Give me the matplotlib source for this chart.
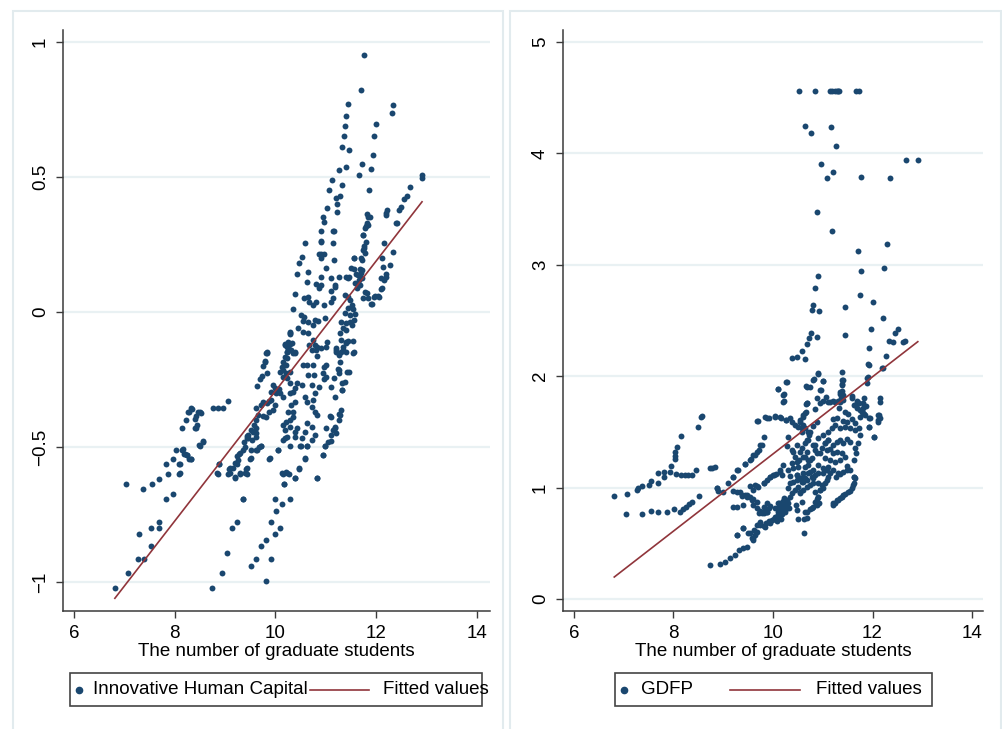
import numpy as np
import matplotlib
matplotlib.use("Agg")
import matplotlib.pyplot as plt
from matplotlib.patches import Rectangle
from matplotlib.lines import Line2D

plt.rcParams['font.family'] = ['Liberation Sans', 'DejaVu Sans']
plt.rcParams['font.size'] = 13.5

# ---- data ----
# left panel: log graduate students vs innovative human capital
hc_pts = np.array([
    (11.76, 0.952), (11.69, 0.823), (11.44, 0.770), (11.41, 0.727), (11.38, 0.688), (11.36, 0.652),
    (11.32, 0.611), (11.46, 0.599), (11.40, 0.537), (11.27, 0.525), (11.13, 0.489), (11.32, 0.470),
    (11.07, 0.451), (11.28, 0.430), (11.21, 0.423), (11.22, 0.399), (11.02, 0.384), (11.22, 0.372),
    (10.95, 0.351), (10.97, 0.332), (10.91, 0.300), (11.14, 0.300), (11.17, 0.300), (10.90, 0.260),
    (11.15, 0.254), (10.58, 0.254), (10.53, 0.205), (10.47, 0.181), (10.90, 0.215),
    (12.34, 0.765), (12.31, 0.736), (12.00, 0.697), (11.96, 0.652), (11.93, 0.581), (11.71, 0.548),
    (11.66, 0.507), (11.89, 0.531), (11.85, 0.451), (11.82, 0.364), (11.88, 0.351), (11.82, 0.330),
    (11.80, 0.320), (11.73, 0.284), (11.80, 0.260), (11.75, 0.236), (11.77, 0.220), (11.71, 0.193),
    (11.56, 0.199), (11.68, 0.160), (11.55, 0.160), (11.60, 0.140),
    (12.91, 0.507), (12.91, 0.495), (12.68, 0.462), (12.62, 0.430), (12.56, 0.420), (12.49, 0.390),
    (12.45, 0.378), (12.22, 0.378), (12.19, 0.365), (12.40, 0.331), (12.16, 0.254), (12.34, 0.223),
    (12.12, 0.200), (12.27, 0.174), (12.20, 0.140), (12.16, 0.120), (12.11, 0.090), (12.03, 0.060),
    (11.97, 0.060), (11.89, 0.030),
    (10.91, 0.263), (10.86, 0.214), (10.96, 0.214), (10.91, 0.201), (11.16, 0.193), (10.64, 0.147),
    (10.42, 0.140), (11.00, 0.162), (10.91, 0.131), (11.10, 0.125), (11.26, 0.131), (10.81, 0.103),
    (10.91, 0.100), (10.86, 0.090), (10.62, 0.112), (11.18, 0.100), (11.18, 0.094), (11.44, 0.127),
    (10.38, 0.067), (10.57, 0.051), (10.65, 0.057), (10.67, 0.036), (10.75, 0.026), (10.81, 0.036),
    (10.97, 0.026), (11.11, 0.038), (11.14, 0.051), (11.10, 0.078), (10.34, 0.011), (10.50, -0.011),
    (10.57, -0.017), (10.55, -0.033), (10.65, -0.036), (10.75, -0.048), (10.78, -0.030), (10.85, -0.033),
    (10.99, -0.021), (10.45, -0.060), (10.55, -0.073), (10.65, -0.079), (10.29, -0.073), (10.29, -0.080),
    (10.24, -0.110), (10.32, -0.116), (10.24, -0.128), (10.30, -0.141), (10.22, -0.147), (10.38, -0.147),
    (10.75, -0.104), (10.78, -0.122), (10.72, -0.141), (10.81, -0.141), (9.84, -0.149), (11.03, -0.110),
    (11.01, -0.128), (10.91, -0.135),
    (11.50, 0.162), (11.41, 0.131), (11.46, 0.131), (11.55, 0.199), (11.69, 0.199), (11.74, 0.230),
    (11.76, 0.246), (11.74, 0.285), (11.77, 0.310), (11.84, 0.322), (11.84, 0.353), (11.72, 0.155),
    (11.70, 0.143), (11.63, 0.137), (11.71, 0.125), (11.65, 0.118), (11.58, 0.106), (11.67, 0.100),
    (11.61, 0.088), (11.38, 0.063), (11.44, 0.057), (11.48, 0.044), (11.51, 0.026), (11.44, 0.014),
    (11.54, 0.011), (11.38, -0.005), (11.48, -0.011), (11.58, -0.009), (11.31, -0.036), (11.41, -0.042),
    (11.48, -0.036), (11.34, -0.060), (11.41, -0.067), (11.52, -0.050), (11.56, -0.030), (11.28, -0.079),
    (11.31, -0.104), (11.41, -0.110), (11.44, -0.107), (11.54, -0.107), (11.34, -0.128), (11.31, -0.147),
    (11.41, -0.147), (11.21, -0.141), (11.56, -0.149),
    (12.20, 0.359), (12.42, 0.328), (12.14, 0.168), (12.10, 0.125), (12.20, 0.131), (12.10, 0.085),
    (12.05, 0.057), (11.96, 0.057), (11.91, 0.028), (11.84, 0.051), (11.81, 0.069), (11.74, 0.050),
    (11.78, 0.075),
    (8.33, -0.357), (8.27, -0.369), (8.22, -0.400), (8.42, -0.385), (8.51, -0.369), (8.45, -0.418),
    (8.40, -0.431), (8.14, -0.431), (8.76, -0.357), (8.85, -0.357), (8.96, -0.357), (9.06, -0.328),
    (8.57, -0.477), (8.50, -0.496), (8.17, -0.509), (8.20, -0.526), (8.25, -0.530), (8.33, -0.546),
    (8.10, -0.563), (8.10, -0.597),
    (9.84, -0.151), (10.19, -0.122), (10.22, -0.128), (10.23, -0.147), (10.29, -0.141), (10.39, -0.151),
    (10.19, -0.165), (10.22, -0.172), (10.15, -0.184), (10.21, -0.196), (10.12, -0.202), (10.09, -0.221),
    (10.15, -0.215), (10.21, -0.227), (10.29, -0.221), (10.23, -0.246), (10.15, -0.240),
    (9.79, -0.184), (9.76, -0.200), (9.84, -0.225), (9.74, -0.237), (9.69, -0.249), (9.64, -0.274),
    (9.96, -0.270), (9.99, -0.283), (10.07, -0.286), (10.09, -0.301), (10.02, -0.301), (10.15, -0.314),
    (9.92, -0.295), (9.92, -0.326), (9.88, -0.328), (9.84, -0.336), (9.76, -0.332), (9.72, -0.344),
    (9.99, -0.344), (9.95, -0.363), (9.88, -0.369), (9.81, -0.388), (9.76, -0.385),
    (9.62, -0.357), (9.66, -0.381), (9.61, -0.400), (9.57, -0.418), (9.61, -0.431), (9.56, -0.443),
    (9.62, -0.449), (9.51, -0.437), (9.46, -0.455), (9.43, -0.468), (9.53, -0.474), (9.39, -0.499),
    (9.37, -0.480), (9.68, -0.499), (9.62, -0.511), (9.72, -0.496), (9.51, -0.511),
    (9.29, -0.521), (9.24, -0.533), (9.26, -0.548), (9.20, -0.560), (9.16, -0.579), (9.10, -0.579),
    (9.51, -0.542), (9.43, -0.579), (9.29, -0.597), (9.39, -0.597), (9.19, -0.610), (9.10, -0.597),
    (8.88, -0.563), (8.84, -0.597), (9.89, -0.542), (10.05, -0.511),
    (10.15, -0.474), (10.23, -0.462), (10.19, -0.437), (10.29, -0.427), (10.15, -0.418), (10.21, -0.406),
    (10.29, -0.400), (10.34, -0.388), (10.25, -0.369), (10.35, -0.369), (10.39, -0.332), (10.30, -0.344),
    (10.29, -0.301), (10.35, -0.295), (10.39, -0.283), (10.29, -0.262), (10.42, -0.262), (10.52, -0.270),
    (10.54, -0.196), (10.63, -0.196), (10.74, -0.196), (10.65, -0.233), (10.76, -0.233), (10.72, -0.270),
    (10.58, -0.314), (10.63, -0.332), (10.75, -0.326), (10.78, -0.301), (10.83, -0.163), (10.83, -0.128),
    (10.67, -0.122),
    (10.21, -0.591), (10.23, -0.597), (10.12, -0.597), (10.17, -0.635), (10.39, -0.616), (10.47, -0.579),
    (10.58, -0.542), (10.82, -0.616),
    (10.50, -0.496), (10.39, -0.462), (10.43, -0.431), (10.62, -0.412), (10.58, -0.443), (10.62, -0.496),
    (10.72, -0.474), (10.78, -0.455), (10.72, -0.425), (10.82, -0.381), (10.78, -0.369), (10.72, -0.351),
    (10.95, -0.530), (10.98, -0.496), (11.05, -0.480), (11.11, -0.455), (11.15, -0.437), (11.18, -0.425),
    (11.01, -0.431), (11.09, -0.385), (11.27, -0.376), (11.31, -0.363), (11.27, -0.400),
    (10.87, -0.277), (10.96, -0.249), (11.01, -0.240), (10.95, -0.227), (11.01, -0.196), (10.96, -0.202),
    (11.16, -0.246), (11.33, -0.264), (11.33, -0.289), (11.18, -0.314), (11.11, -0.277),
    (11.21, -0.147), (11.20, -0.134), (11.34, -0.141), (11.26, -0.159), (11.41, -0.116), (11.54, -0.151),
    (11.28, -0.184), (11.25, -0.212), (11.42, -0.221), (11.26, -0.227),
    (6.81, -1.021), (7.07, -0.968), (7.03, -0.635), (7.36, -0.654), (7.54, -0.635), (7.68, -0.617),
    (7.82, -0.694), (7.96, -0.674), (7.82, -0.562), (7.86, -0.599), (8.08, -0.599), (8.08, -0.563),
    (7.97, -0.544), (8.02, -0.510), (8.14, -0.511), (8.19, -0.527), (8.24, -0.530), (8.32, -0.544),
    (8.28, -0.544), (8.29, -0.369), (8.34, -0.359), (8.40, -0.397), (8.43, -0.428), (8.47, -0.372),
    (8.52, -0.373), (8.48, -0.493), (8.56, -0.480),
    (7.29, -0.821), (7.52, -0.799), (7.68, -0.777), (7.68, -0.799), (7.52, -0.868), (7.26, -0.916),
    (7.39, -0.916), (8.74, -1.022), (8.94, -0.968), (9.04, -0.891), (9.13, -0.799), (9.23, -0.777),
    (9.35, -0.694), (9.51, -0.942), (9.62, -0.916), (9.71, -0.868), (9.82, -0.844), (9.92, -0.916),
    (9.81, -0.995), (9.92, -0.777), (9.99, -0.821), (10.08, -0.799), (10.02, -0.735), (10.12, -0.712),
    (9.99, -0.694), (10.29, -0.694), (10.16, -0.635), (10.14, -0.598), (10.26, -0.598), (10.39, -0.616),
    (10.47, -0.581), (10.82, -0.616), (10.95, -0.530), (10.98, -0.495), (11.10, -0.478),
    (8.87, -0.562), (8.85, -0.599), (9.06, -0.599), (9.08, -0.581), (9.20, -0.616), (9.30, -0.599),
    (9.43, -0.599), (9.41, -0.581), (9.36, -0.694), (9.24, -0.562), (9.28, -0.527), (9.36, -0.511),
    (9.49, -0.544), (9.46, -0.465), (9.43, -0.458), (9.61, -0.463), (9.64, -0.511), (9.72, -0.495),
    (9.88, -0.544), (10.04, -0.511), (10.19, -0.465), (10.29, -0.495), (10.39, -0.443), (10.49, -0.495),
    (10.59, -0.544), (10.62, -0.495), (10.52, -0.465),
    (11.18, -0.431), (11.21, -0.449), (11.10, -0.388), (11.28, -0.381), (11.33, -0.289), (11.38, -0.260),
    (11.27, -0.215), (11.45, -0.223),
    (10.29, -0.079), (10.35, -0.153), (9.82, -0.151), (9.79, -0.180), (10.18, -0.118), (10.28, -0.118),
])

# right panel: log graduate students vs GDFP
gdfp_pts = np.array([
    (10.52, 4.56), (10.84, 4.56), (11.15, 4.56), (11.19, 4.56), (11.25, 4.56), (11.28, 4.56),
    (11.31, 4.56), (11.33, 4.56), (11.67, 4.56), (11.72, 4.56),
    (10.65, 4.243), (11.17, 4.240), (10.76, 4.180), (11.26, 4.066), (10.96, 3.902), (11.21, 3.836),
    (11.09, 3.776), (11.76, 3.788), (12.35, 3.782), (12.67, 3.941), (12.91, 3.941), (10.88, 3.471),
    (11.19, 3.306), (11.70, 3.124), (12.30, 3.184), (11.77, 2.947), (12.24, 2.974), (10.91, 2.899),
    (10.84, 2.789), (11.74, 2.729), (12.00, 2.669), (10.81, 2.639), (10.79, 2.594), (10.92, 2.588),
    (11.45, 2.621), (12.21, 2.519), (11.96, 2.424), (12.45, 2.391), (12.51, 2.421), (10.76, 2.385),
    (10.73, 2.340), (10.88, 2.349), (10.69, 2.289), (11.45, 2.373), (12.34, 2.319), (12.42, 2.304),
    (12.62, 2.304), (12.65, 2.319), (11.93, 2.256), (10.58, 2.226), (10.39, 2.160), (10.48, 2.169),
    (10.64, 2.155), (12.27, 2.178), (11.90, 2.107),
    (6.81, 0.928), (7.07, 0.946), (7.26, 0.978), (7.29, 0.999), (7.36, 1.017), (7.51, 1.023),
    (7.54, 1.059), (7.69, 1.038), (7.68, 1.128), (7.80, 1.137), (7.81, 1.098), (7.94, 1.143),
    (7.96, 1.197), (8.03, 1.257), (8.04, 1.317), (8.08, 1.367), (8.16, 1.466), (8.04, 1.287),
    (8.06, 1.122), (8.16, 1.113), (8.23, 1.113), (8.30, 1.113), (8.37, 1.113), (8.45, 1.158),
    (8.49, 1.547), (8.55, 1.637), (8.73, 1.173), (8.83, 1.188),
    (7.04, 0.760), (7.36, 0.760), (7.54, 0.793), (7.68, 0.784), (7.86, 0.778), (8.01, 0.808),
    (8.13, 0.784), (8.20, 0.808), (8.26, 0.829), (8.32, 0.850), (8.38, 0.874), (8.52, 0.928),
    (8.73, 0.305), (8.93, 0.317), (9.04, 0.335), (9.14, 0.371), (9.24, 0.395), (9.32, 0.440),
    (9.40, 0.461), (9.48, 0.470),
    (8.87, 0.993), (8.90, 0.970), (9.10, 1.038), (9.20, 1.098), (9.28, 1.158), (9.44, 1.209),
    (9.54, 1.248), (9.60, 1.293), (9.67, 1.317), (9.77, 1.382), (9.81, 1.457),
    (9.20, 0.829), (9.28, 0.574), (9.40, 0.634), (9.50, 0.589), (9.60, 0.545), (9.67, 0.664),
    (9.74, 0.694), (9.84, 0.649), (9.91, 0.694),
    (9.34, 0.963), (9.47, 0.934), (9.57, 0.889), (9.60, 0.844), (9.67, 0.820), (9.74, 0.790),
    (9.81, 0.769), (9.87, 0.784), (9.60, 0.978), (9.67, 1.017), (9.81, 1.038),
    (9.67, 1.598), (9.87, 1.628), (10.04, 1.637), (10.17, 1.628), (10.27, 1.607),
    (10.11, 1.885), (10.20, 1.831), (10.22, 1.777), (10.27, 1.951), (10.66, 1.747), (10.74, 1.906),
    (10.81, 1.966), (10.91, 2.026), (11.00, 1.957), (10.94, 1.876), (10.88, 1.801),
    (11.38, 2.041), (11.38, 1.966), (11.38, 1.921), (11.35, 1.861), (11.36, 1.801), (11.41, 1.831),
    (11.11, 1.771), (11.21, 1.777), (11.31, 1.777), (11.41, 1.786), (11.58, 1.801), (11.68, 1.777),
    (11.82, 1.801), (11.78, 1.682), (11.82, 1.658),
    (11.88, 1.981), (11.88, 1.936), (11.92, 2.100), (12.22, 2.071), (12.15, 1.801), (12.15, 1.771),
    (12.12, 1.652), (12.15, 1.622), (12.12, 1.592), (12.02, 1.457), (11.92, 1.547), (11.92, 1.622),
    (11.62, 1.741), (11.72, 1.756), (11.68, 1.712), (11.75, 1.697), (11.80, 1.712),
    (9.28, 0.574), (9.40, 0.634), (9.54, 0.589), (9.57, 0.545), (9.60, 0.530), (9.64, 0.574),
    (9.62, 0.619), (9.67, 0.604), (9.73, 0.664), (9.74, 0.679),
    (9.81, 0.655), (9.86, 0.679), (9.91, 0.703), (9.94, 0.679), (9.97, 0.709), (10.02, 0.715),
    (10.06, 0.739), (10.11, 0.754), (10.14, 0.769), (10.19, 0.784), (10.24, 0.799), (10.28, 0.814),
    (10.04, 0.814), (10.13, 0.829), (10.17, 0.859), (10.24, 0.874), (10.29, 0.889), (10.11, 0.859),
    (10.19, 0.835), (10.26, 0.844), (10.31, 0.859), (10.22, 0.904),
    (9.87, 0.784), (9.81, 0.829), (9.67, 0.874), (9.60, 0.895), (9.54, 0.913), (9.44, 0.934),
    (9.37, 0.925), (9.27, 0.829), (9.40, 0.844),
    (9.71, 0.769), (9.77, 0.775), (9.84, 0.799), (9.91, 0.814), (9.94, 0.835), (9.87, 0.859),
    (10.34, 0.919), (10.38, 0.949), (10.31, 0.993), (10.34, 1.038), (10.41, 1.053), (10.48, 1.068),
    (10.54, 1.083), (10.61, 1.098),
    (10.46, 0.844), (10.48, 0.799), (10.51, 0.715), (10.62, 0.715), (10.62, 0.596),
    (10.68, 0.784), (10.74, 0.805), (10.81, 0.823), (10.88, 0.844), (10.93, 0.859), (10.88, 0.895),
    (10.91, 0.919), (10.84, 0.964), (10.94, 0.979), (11.01, 0.993), (10.98, 1.023), (11.05, 1.038),
    (11.08, 1.068), (11.11, 1.098), (11.15, 1.128),
    (11.20, 0.844), (11.25, 0.859), (11.31, 0.889), (11.38, 0.913), (11.45, 0.943), (11.55, 0.973),
    (11.60, 1.023), (11.63, 1.092),
    (10.54, 0.949), (10.61, 0.979), (10.68, 1.008), (10.74, 1.023), (10.81, 1.038), (10.68, 1.068),
    (10.61, 1.053), (10.78, 1.092), (10.84, 1.113), (10.91, 1.128), (10.51, 1.008), (10.44, 0.979),
    (11.27, 1.098), (11.35, 1.122), (11.41, 1.143), (11.48, 1.158), (11.01, 1.128), (11.08, 1.158),
    (8.87, 0.993), (9.00, 0.964), (9.20, 0.973), (9.27, 0.964), (9.37, 0.934), (9.47, 0.919),
    (9.54, 1.014), (9.64, 1.023), (9.70, 1.008), (9.81, 1.038), (9.87, 1.068), (9.94, 1.092),
    (10.01, 1.113), (10.07, 1.122), (10.14, 1.143),
    (10.10, 0.780), (10.15, 0.800), (10.18, 0.760), (10.22, 0.820), (10.25, 0.780), (10.20, 0.880),
    (10.28, 0.860), (10.32, 0.820), (10.12, 0.860), (10.05, 0.740), (10.08, 0.700), (10.16, 0.720),
    (10.29, 1.951), (10.66, 1.912), (10.11, 1.882), (10.22, 1.837), (10.21, 1.771), (8.57, 1.643),
    (9.84, 1.637), (9.91, 1.628), (10.04, 1.643), (10.14, 1.637), (10.26, 1.607), (10.34, 1.622),
    (10.38, 1.592), (10.44, 1.562), (10.51, 1.547), (9.69, 1.598),
    (10.61, 1.652), (10.66, 1.682), (10.68, 1.757), (10.54, 1.592), (10.61, 1.562), (10.64, 1.532),
    (10.71, 1.502), (10.58, 1.502),
    (9.74, 1.382), (9.71, 1.338), (9.64, 1.293), (9.55, 1.254), (9.44, 1.212), (9.30, 1.158),
    (9.20, 1.098), (8.77, 1.173),
    (10.31, 1.457), (10.29, 1.373), (10.38, 1.338), (10.49, 1.383), (10.54, 1.323), (10.44, 1.278),
    (10.53, 1.248), (10.61, 1.278), (10.68, 1.323), (10.71, 1.248), (10.64, 1.188), (10.51, 1.188),
    (10.31, 1.158), (10.38, 1.218), (10.21, 1.203), (10.14, 1.158), (10.02, 1.113), (9.94, 1.092),
    (10.19, 1.113), (10.34, 1.104), (10.48, 1.113), (10.61, 1.128), (10.68, 1.427), (10.73, 1.472),
    (12.20, 2.071), (11.90, 1.990), (10.91, 2.020), (10.82, 1.972), (11.00, 1.960), (10.69, 1.906),
    (10.96, 1.876), (11.40, 1.966), (11.38, 1.930), (11.38, 1.870), (11.35, 1.840),
    (11.07, 1.816), (11.00, 1.780), (10.94, 1.762), (11.15, 1.771), (11.25, 1.771), (11.35, 1.771),
    (11.58, 1.822), (11.68, 1.762), (11.80, 1.756), (11.87, 1.732), (11.80, 1.673), (11.85, 1.652),
    (11.75, 1.637), (11.95, 1.622),
    (10.68, 1.756), (10.64, 1.673), (10.61, 1.637), (10.54, 1.607), (10.84, 1.703), (10.88, 1.592),
    (10.80, 1.553), (10.74, 1.502), (10.58, 1.532),
    (11.33, 1.712), (11.45, 1.682), (11.51, 1.661), (11.58, 1.613), (11.65, 1.583), (11.48, 1.592),
    (11.41, 1.601), (11.28, 1.622), (11.21, 1.613), (11.35, 1.532), (11.45, 1.547), (11.55, 1.532),
    (11.65, 1.517), (11.72, 1.532), (11.74, 1.472), (11.70, 1.397), (11.65, 1.352), (11.67, 1.308),
    (11.62, 1.248), (11.62, 1.092), (11.55, 1.158), (11.48, 1.194),
    (11.92, 1.547), (12.03, 1.451), (12.14, 1.652), (12.10, 1.607),
    (10.91, 1.442), (11.01, 1.472), (11.11, 1.502), (11.18, 1.532), (11.25, 1.562), (11.05, 1.397),
    (11.11, 1.427), (11.21, 1.382), (11.28, 1.412), (11.35, 1.427), (11.41, 1.397), (11.48, 1.433),
    (11.55, 1.412), (11.08, 1.338), (11.15, 1.344), (11.21, 1.308), (11.29, 1.323), (11.38, 1.314),
    (11.45, 1.278), (11.35, 1.248), (11.25, 1.233), (11.15, 1.248), (11.05, 1.263), (10.94, 1.308),
    (10.84, 1.338), (10.81, 1.382), (10.71, 1.427), (10.64, 1.397), (10.58, 1.352),
    (10.91, 1.203), (11.01, 1.173), (11.11, 1.188), (11.21, 1.158), (11.31, 1.128), (10.81, 1.158),
    (10.71, 1.128), (10.64, 1.083), (10.74, 1.248), (10.64, 1.278),
    (11.21, 0.859), (11.28, 0.889), (11.35, 0.910), (11.41, 0.934), (11.51, 0.958), (11.58, 0.994),
    (11.62, 1.038), (11.65, 1.083),
    (10.41, 1.317), (10.48, 1.233), (10.41, 1.173), (10.48, 1.113), (10.58, 1.053), (10.54, 0.963),
    (10.58, 0.874), (10.64, 0.784), (10.68, 0.724), (10.78, 0.814), (10.84, 0.874), (10.91, 0.919),
    (10.94, 0.978), (10.91, 1.038), (10.81, 1.083), (10.74, 1.143), (10.71, 1.203), (10.78, 1.263),
    (10.88, 1.308), (10.98, 1.352), (11.05, 1.397), (11.11, 1.427), (10.85, 1.382),
])

# fitted lines (end points)
fit_x = [6.81, 12.91]
fit_hc = [-1.06, 0.408]
fit_gdfp = [0.197, 2.31]

xticks = [6, 8, 10, 12, 14]
hc_yticks = [-1, -0.5, 0, 0.5, 1]
hc_ylabels = ['\u22121', '\u22120.5', '0', '0.5', '1']
gdfp_yticks = [0, 1, 2, 3, 4, 5]

navy = '#1a476f'
maroon = '#90353b'
grid_c = '#e9f1f3'
axis_c = '#3a3a3a'

W, H = 1003, 729
fig = plt.figure(figsize=(W / 100, H / 100), dpi=100)
fig.patch.set_facecolor('white')


def fx(p):
    return p / W


def fy(p):
    return 1 - p / H


# light frames around each graph region
for x0, x1 in [(13, 503), (510, 1001)]:
    fig.add_artist(Rectangle((fx(x0), fy(760)), fx(x1 - x0), (760 - 11) / H,
                             transform=fig.transFigure, fill=False,
                             edgecolor='#e2ebee', lw=1.5))

ax1 = fig.add_axes([fx(63), fy(611), fx(490 - 63), (611 - 30) / H])
ax2 = fig.add_axes([fx(563), fy(611), fx(983 - 563), (611 - 30) / H])


def style(ax):
    for s in ['top', 'right']:
        ax.spines[s].set_visible(False)
    for s in ['left', 'bottom']:
        ax.spines[s].set_color(axis_c)
        ax.spines[s].set_linewidth(1.1)
    ax.tick_params(axis='both', length=5, width=1, color=axis_c, labelsize=13.5, pad=5)
    ax.tick_params(axis='y', labelrotation=90)
    ax.set_xticks(xticks)
    ax.set_xlabel('The number of graduate students', fontsize=13.5, labelpad=1)
    ax.grid(axis='y', color=grid_c, lw=1.6)
    ax.set_axisbelow(True)


ax1.scatter(hc_pts[:, 0], hc_pts[:, 1], s=18, color=navy, linewidths=0, zorder=3)
ax1.plot(fit_x, fit_hc, color=maroon, lw=1.2, zorder=4)
ax1.set_xlim(5.78, 14.26)
ax1.set_ylim(-1.107, 1.044)
ax1.set_yticks(hc_yticks)
ax1.set_yticklabels(hc_ylabels)
style(ax1)

ax2.scatter(gdfp_pts[:, 0], gdfp_pts[:, 1], s=18, color=navy, linewidths=0, zorder=3)
ax2.plot(fit_x, fit_gdfp, color=maroon, lw=1.2, zorder=4)
ax2.set_xlim(5.78, 14.22)
ax2.set_ylim(-0.108, 5.108)
ax2.set_yticks(gdfp_yticks)
style(ax2)
for ax in (ax1, ax2):
    for lab in ax.get_yticklabels():
        lab.set_va('center')


# Stata-like legends drawn under each panel
def legend(box, dot_x, label, txt_x, line, fit_txt_x):
    x0, x1 = box
    fig.add_artist(Rectangle((fx(x0), fy(706)), fx(x1 - x0), 33 / H,
                             transform=fig.transFigure, fill=False,
                             edgecolor='#444444', lw=1.2))
    yc = fy(690)
    fig.add_artist(Line2D([fx(dot_x)], [yc], marker='o', ms=4.5, color=navy,
                          mec=navy, transform=fig.transFigure))
    fig.text(fx(txt_x), yc, label, va='center', ha='left', fontsize=13.5)
    fig.add_artist(Line2D([fx(line[0]), fx(line[1])], [yc, yc], color=maroon,
                          lw=1.2, transform=fig.transFigure))
    fig.text(fx(fit_txt_x), yc, 'Fitted values', va='center', ha='left', fontsize=13.5)


legend((70, 482), 79, 'Innovative Human Capital', 93, (310, 369), 383)
legend((615, 932), 624, 'GDFP', 641, (730, 800), 816)

fig.savefig('out.png', dpi=100)
